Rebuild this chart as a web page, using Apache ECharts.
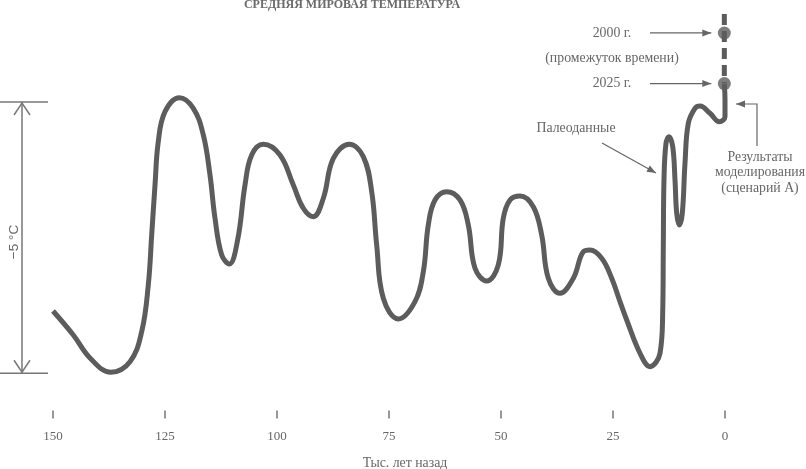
<!DOCTYPE html>
<html><head><meta charset="utf-8">
<script src="https://cdn.jsdelivr.net/npm/echarts@6/dist/echarts.min.js"></script>
<style>html,body{margin:0;padding:0;background:#fff}#c{width:806px;height:469px}</style>
</head><body><div id="c"></div>
<script>
// Thousand years ago
const paleoYears = [150, 145.47, 141.74, 137.12, 132.81, 130.20, 128.73, 127.97, 127.23, 126.50, 125.0, 121.81, 118.68, 116.45, 114.96, 113.84, 112.34, 110.65, 108.8, 107.14, 105.65, 103.06, 99.33, 96.36, 94.13, 91.9, 89.66, 87.43, 83.86, 80.74, 78.86, 77.75, 76.27, 72.92, 69.20, 67.34, 66.23, 64.73, 62.12, 59.15, 57.30, 55.80, 53.19, 50.60, 49.49, 47.99, 45.76, 42.79, 40.92, 39.44, 36.83, 33.86, 31.63, 30.13, 27.52, 25.29, 23.44, 21.94, 18.97, 16.74, 14.51, 13.91, 13.77, 13.62, 13.17, 12.50, 11.67, 11.16, 10.78, 10.20, 9.53, 8.93, 8.19, 6.70, 5.58, 3.35, 1.27, 0, 0, 0.15];
// Temperature, °C relative to the top of the 5 °C bracket
const paleoTemps = [-3.852, -4.294, -4.718, -4.982, -4.786, -4.233, -3.373, -2.451, -1.530, -0.732, -0.179, 0.079, -0.116, -0.608, -1.345, -2.143, -2.820, -2.986, -2.55, -1.530, -0.977, -0.780, -0.977, -1.530, -1.959, -2.114, -1.775, -1.038, -0.780, -1.008, -1.653, -2.635, -3.618, -3.999, -3.680, -3.128, -2.267, -1.806, -1.653, -1.806, -2.267, -3.065, -3.299, -3.004, -2.143, -1.806, -1.732, -1.930, -2.451, -3.249, -3.526, -3.249, -2.759, -2.728, -2.881, -3.249, -3.680, -4.018, -4.631, -4.878, -4.631, -3.894, -2.667, -1.438, -0.761, -0.640, -0.824, -1.438, -2.051, -2.267, -2.051, -1.130, -0.393, -0.116, -0.074, -0.208, -0.363, -0.271, 0.04, 0.33];
const markerLabels = ['2000 г.', '2025 г.'];
const markerYears = [0.15, 0.15];
const markerTemps = [1.272, 0.34];
const gapYears = [0.15, 0.15];
const gapTemps = [1.622, 0.34];
const xTicks = [150, 125, 100, 75, 50, 25, 0];
const scaleSpan = [0, -5];

const GRAY = '#5c5c5c', TXT = '#666';
const FONT = '"Liberation Serif", "DejaVu Serif", serif';
const chart = echarts.init(document.getElementById('c'), null, {renderer: 'canvas'});
chart.setOption({
  animation: false,
  backgroundColor: '#fff',
  grid: {left: 53, right: 81, top: 7.04, bottom: 68.6, containLabel: false},
  xAxis: {
    type: 'value', inverse: true, min: 0, max: 150, interval: 25, offset: 10,
    axisLine: {show: false, onZero: false},
    axisTick: {show: true, length: 8, lineStyle: {color: '#777', width: 1.5}},
    axisLabel: {margin: 20, color: TXT, fontSize: 13, fontFamily: FONT,
      formatter: v => xTicks.includes(v) ? String(v) : ''},
    splitLine: {show: false}
  },
  yAxis: {type: 'value', min: -5.5, max: 1.75, show: false, splitLine: {show: false}},
  series: [
    {type: 'line', data: paleoYears.map((y, i) => [y, paleoTemps[i]]), smooth: 0.4, symbol: 'none', clip: false,
     lineStyle: {color: GRAY, width: 5, cap: 'butt', join: 'round'}},
    {type: 'line', data: gapYears.map((y, i) => [y, gapTemps[i]]), symbol: 'none', clip: false,
     lineStyle: {color: GRAY, width: 5, type: [11, 6]}},
    {type: 'scatter', data: markerYears.map((y, i) => ({value: [y, markerTemps[i]], name: markerLabels[i]})),
     symbolSize: 13, itemStyle: {color: GRAY}, clip: false}
  ]
});

function arrowHead(x, y, ang) {
  const L = 9, W = 3.5;
  const c = Math.cos(ang), s = Math.sin(ang);
  return {type: 'polygon', shape: {points: [[x, y], [x - L * c - W * s, y - L * s + W * c], [x - L * c + W * s, y - L * s - W * c]]},
    style: {fill: TXT}};
}
function arrow(pts) {
  const n = pts.length, a = pts[n - 2], b = pts[n - 1];
  const ang = Math.atan2(b[1] - a[1], b[0] - a[0]);
  return [{type: 'polyline', shape: {points: pts}, style: {stroke: TXT, lineWidth: 1.2, fill: null}}, arrowHead(b[0], b[1], ang)];
}
function txt(x, y, t, extra) {
  return {type: 'text', x: x, y: y, style: Object.assign({text: t, fill: TXT, font: '13.8px ' + FONT, textAlign: 'center', textVerticalAlign: 'middle'}, extra || {})};
}

const top0 = chart.convertToPixel({gridIndex: 0}, [0, scaleSpan[0]])[1];
const bot0 = chart.convertToPixel({gridIndex: 0}, [0, scaleSpan[1]])[1];
const bx = 22;
const g = [];
g.push(txt(352, 5, 'СРЕДНЯЯ МИРОВАЯ ТЕМПЕРАТУРА', {font: 'bold 12px ' + FONT, fill: '#6a6a6a'}));
g.push(txt(405, 463, 'Тыс. лет назад'));
// 5 °C scale bracket
g.push({type: 'line', shape: {x1: 0, y1: top0, x2: 48, y2: top0}, style: {stroke: '#777', lineWidth: 1.5}});
g.push({type: 'line', shape: {x1: 0, y1: bot0, x2: 48, y2: bot0}, style: {stroke: '#777', lineWidth: 1.5}});
g.push({type: 'line', shape: {x1: bx, y1: top0, x2: bx, y2: bot0}, style: {stroke: '#777', lineWidth: 1.5}});
g.push({type: 'polyline', shape: {points: [[bx - 8, top0 + 13], [bx, top0 + 1], [bx + 8, top0 + 13]]}, style: {stroke: '#777', lineWidth: 1.5, fill: null}});
g.push({type: 'polyline', shape: {points: [[bx - 8, bot0 - 13], [bx, bot0 - 1], [bx + 8, bot0 - 13]]}, style: {stroke: '#777', lineWidth: 1.5, fill: null}});
g.push({type: 'text', x: 14, y: 242, rotation: Math.PI / 2,
  style: {text: '−5 °C', fill: TXT, font: '13.5px "Liberation Sans", "DejaVu Sans", sans-serif', textAlign: 'center', textVerticalAlign: 'middle'}});
// annotations
const p2000 = chart.convertToPixel({gridIndex: 0}, [markerYears[0], markerTemps[0]]);
const p2025 = chart.convertToPixel({gridIndex: 0}, [markerYears[1], markerTemps[1]]);
g.push(txt(612, p2000[1], markerLabels[0]));
g.push(...arrow([[650, p2000[1]], [p2000[0] - 13, p2000[1]]]));
g.push(txt(612, 58, '(промежуток времени)'));
g.push(txt(612, p2025[1], markerLabels[1]));
g.push(...arrow([[650, p2025[1]], [p2025[0] - 13, p2025[1]]]));
g.push(txt(576, 128, 'Палеоданные'));
g.push(...arrow([[602, 143], [656, 173]]));
g.push(...arrow([[757, 146], [757, 104], [736, 104]]));
g.push(txt(760, 157, 'Результаты'));
g.push(txt(760, 172, 'моделирования'));
g.push(txt(760, 188, '(сценарий А)'));
chart.setOption({graphic: {elements: g}});
</script></body></html>
